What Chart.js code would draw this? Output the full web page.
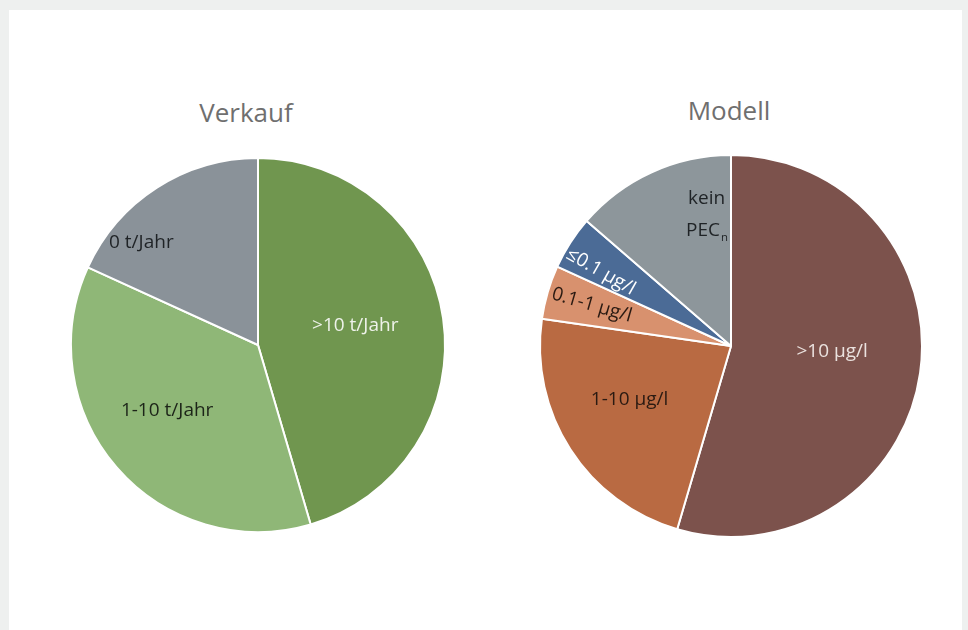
<!DOCTYPE html>
<html>
<head>
<meta charset="utf-8">
<script src="https://cdn.jsdelivr.net/npm/chart.js@4.4.0/dist/chart.umd.min.js"></script>
<style>
  html, body { margin: 0; padding: 0; background: #eef0ef; }
  body { width: 968px; height: 630px; position: relative; overflow: hidden; }
  #panel { position: absolute; left: 9px; top: 10px; width: 953px; height: 620px; background: #fff; }
  .title { position: absolute; font-family: "Open Sans", sans-serif; font-size: 26px; color: #6f6f6f; text-align: center; width: 200px; }
  .box { position: absolute; }
</style>
</head>
<body>
<div id="panel"></div>
<div class="title" style="left:146px; top:94px;">Verkauf</div>
<div class="title" style="left:629px; top:92px;">Modell</div>
<div class="box" style="left:66px; top:153px; width:384px; height:384px;"><canvas id="verkaufChart"></canvas></div>
<div class="box" style="left:535px; top:150px; width:392px; height:392px;"><canvas id="modellChart"></canvas></div>
<script>
// Verkauf (number of substances per sales class)
var verkaufLabels = ['>10 t/Jahr', '1-10 t/Jahr', '0 t/Jahr'];
var verkaufValues = [5, 4, 2];
var verkaufColors = ['#70964f', '#8fb777', '#8a9299'];

// Modell (predicted concentration classes)
var modellLabels = ['>10 µg/l', '1-10 µg/l', '0.1-1 µg/l', '≤0.1 µg/l', 'kein PEC_n'];
var modellValues = [12, 5, 1, 1, 3];
var modellColors = ['#7c524c', '#b96a42', '#d8916e', '#4b6b96', '#8d969b'];

// draws the text inside each slice
var sliceLabels = {
    id: 'sliceLabels',
    afterDatasetsDraw: function (chart, args, opts) {
        var ctx = chart.ctx;
        var arcs = chart.getDatasetMeta(0).data;
        var font = opts.size + 'px "Open Sans", sans-serif';
        var small = (opts.size * 0.6) + 'px "Open Sans", sans-serif';
        ctx.save();
        ctx.font = font;
        ctx.textAlign = 'center';
        ctx.textBaseline = 'middle';
        arcs.forEach(function (arc, i) {
            var p = arc.getProps(['x', 'y', 'startAngle', 'endAngle', 'outerRadius'], true);
            var mid = (p.startAngle + p.endAngle) / 2 + (opts.shift[i] || 0) * Math.PI / 180;
            var r = p.outerRadius * opts.radius[i];
            ctx.save();
            ctx.translate(p.x + Math.cos(mid) * r, p.y + Math.sin(mid) * r);
            if (opts.rotate[i]) {
                ctx.rotate(mid + Math.PI);
            }
            ctx.fillStyle = opts.colors[i];
            var lines = opts.lines[i];
            var lh = opts.size * 1.7;
            lines.forEach(function (line, j) {
                var y = (j - (lines.length - 1) / 2) * lh;
                var parts = line.split('_');
                if (parts.length == 1) {
                    ctx.fillText(line, 0, y);
                } else {
                    var w1 = ctx.measureText(parts[0]).width;
                    ctx.font = small;
                    var w2 = ctx.measureText(parts[1]).width;
                    ctx.textAlign = 'left';
                    ctx.font = font;
                    ctx.fillText(parts[0], -(w1 + w2) / 2, y);
                    ctx.font = small;
                    ctx.fillText(parts[1], -(w1 + w2) / 2 + w1 + 1, y + opts.size * 0.35);
                    ctx.font = font;
                    ctx.textAlign = 'center';
                }
            });
            ctx.restore();
        });
        ctx.restore();
    }
};

function makePie(id, labels, values, colors, labelOpts) {
    return new Chart(document.getElementById(id), {
        type: 'pie',
        data: {
            labels: labels,
            datasets: [{
                data: values,
                backgroundColor: colors,
                borderColor: '#ffffff',
                borderWidth: 2
            }]
        },
        options: {
            responsive: true,
            maintainAspectRatio: false,
            animation: false,
            layout: { padding: 4 },
            plugins: {
                legend: { display: false },
                tooltip: { enabled: false },
                sliceLabels: labelOpts
            }
        },
        plugins: [sliceLabels]
    });
}

makePie('verkaufChart', verkaufLabels, verkaufValues, verkaufColors, {
    size: 19,
    lines: [['>10 t/Jahr'], ['1-10 t/Jahr'], ['0 t/Jahr']],
    radius: [0.53, 0.60, 0.83],
    shift: [-3, 5, -16],
    rotate: [false, false, false],
    colors: ['#eef2ea', '#1c2418', '#1f2326']
});

makePie('modellChart', modellLabels, modellValues, modellColors, {
    size: 19,
    lines: [['>10 µg/l'], ['1-10 µg/l'], ['0.1-1 µg/l'], ['≤0.1 µg/l'], ['kein', 'PEC_n']],
    radius: [0.53, 0.60, 0.76, 0.785, 0.70],
    shift: [-5, 5, 0, -3, 14],
    rotate: [false, false, true, true, false],
    colors: ['#ebe2df', '#2a1a12', '#2a1a12', '#ffffff', '#1f2326']
});
</script>
</body>
</html>
